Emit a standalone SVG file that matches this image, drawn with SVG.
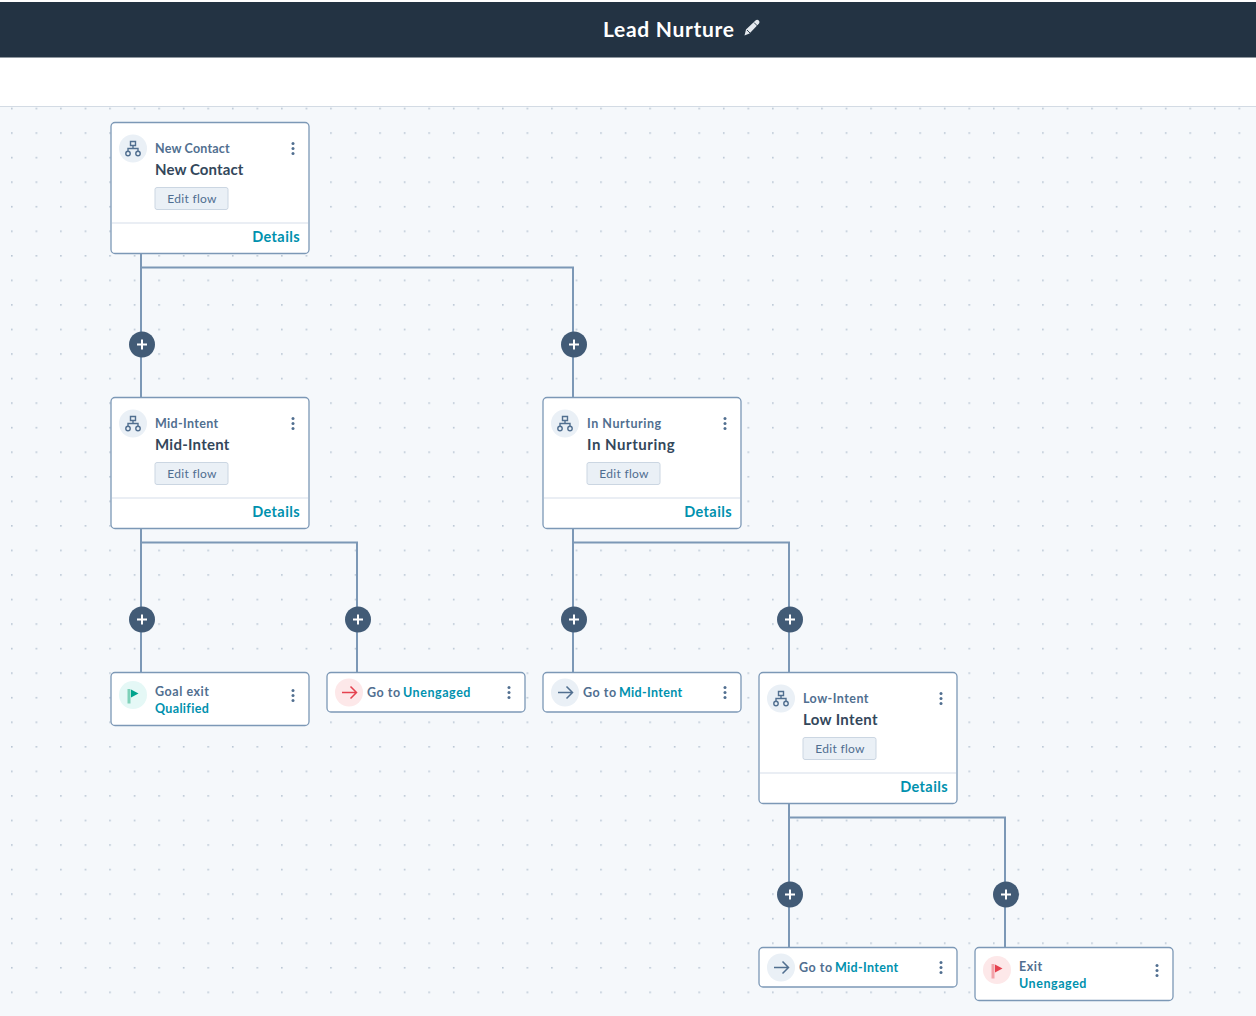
<svg xmlns="http://www.w3.org/2000/svg" xmlns:xlink="http://www.w3.org/1999/xlink" width="1256" height="1016" viewBox="0 0 1256 1016">
<style>
text{font-family:"Lato","Noto Sans",sans-serif}
.card{fill:#fff;stroke:#7c98b6;stroke-width:1.3}
.sep{stroke:#e3e9f0;stroke-width:1.3;fill:none}
.small{font-size:12.5px;font-weight:700;fill:#516f90;letter-spacing:.55px}
.big{font-size:15px;font-weight:700;fill:#33475b;letter-spacing:.55px}
.link{font-size:12.5px;font-weight:700;fill:#0091ae;letter-spacing:.33px}
.det{font-size:14.5px;font-weight:700;fill:#0091ae;letter-spacing:.4px}
.btn{fill:#eaf0f6;stroke:#cbd6e2;stroke-width:1}
.btnt{font-size:12px;fill:#506e91;letter-spacing:.3px;text-anchor:middle}
.conn{fill:none;stroke:#7c98b6;stroke-width:2}
.plusb{fill:#425b76}
.pluss{stroke:#fff;stroke-width:2;fill:none}
.ico{fill:none;stroke:#516f90;stroke-width:1.4}
.dots{fill:#516f90}
</style>
<defs>
<pattern id="grid" x="0" y="0" width="24.55" height="24.55" patternUnits="userSpaceOnUse" patternTransform="translate(11 9.5)">
<rect x="0" y="0" width="1.6" height="1.6" fill="#b9c6d4"/>
</pattern>
<g id="menu"><circle cx="0" cy="-5" r="1.5" class="dots"/><circle cx="0" cy="0" r="1.5" class="dots"/><circle cx="0" cy="5" r="1.5" class="dots"/></g>
<g id="plus"><circle r="13" class="plusb"/><path d="M-5 0H5M0-5V5" class="pluss"/></g>
<g id="tree"><circle r="14" fill="#eaf0f6"/><path d="M-2.500-7h5v4h-5zM0-3v3M-5 3V0H5V3" class="ico"/><circle cx="-5" cy="5" r="2.200" class="ico"/><circle cx="5" cy="5" r="2.200" class="ico"/></g>
<g id="card">
<rect x="0" y="0" width="198" height="131" rx="4" class="card"/>
<path d="M1 100.500H197" class="sep"/>
<rect x="44" y="65" width="73" height="22" rx="2" class="btn"/>
<text x="81" y="80.500" class="btnt">Edit flow</text>
<use xlink:href="#tree" x="22" y="26"/>
<use xlink:href="#menu" x="182" y="26"/>
<text x="189" y="119.500" class="det" text-anchor="end">Details</text>
</g>
</defs>
<rect width="1256" height="1016" fill="#ffffff"/>
<rect x="0" y="107" width="1256" height="909" fill="#f5f8fb"/>
<rect x="0" y="107" width="1256" height="909" fill="url(#grid)"/>
<path d="M0 106.500H1256" stroke="#d3dbe4" stroke-width="1.200" fill="none"/>

<g id="header">
<rect x="0" y="2" width="1256" height="55.500" fill="#233343"/>
<text x="603" y="37" font-size="21" font-weight="700" fill="#fff" letter-spacing=".7">Lead Nurture</text>
<path d="M744.500 35.500l1.500-6 9.500-9c1-1 2.500-.8 3.300 0s1 2.300 0 3.300l-9.300 9.700z" fill="#e4e9ee"/>
<path d="M747 30l3.500 3.500M754 22.500l3.500 3.500" stroke="#233343" stroke-width=".9" fill="none"/>
</g>

<g id="connectors">
<path class="conn" d="M141 254V398M141 267.500H573V398"/>
<path class="conn" d="M141 529V673M141 542.500H357V673"/>
<path class="conn" d="M573 529V673M573 542.500H789V673"/>
<path class="conn" d="M789 804V948M789 817.500H1005V948"/>
<use xlink:href="#plus" x="142" y="344.500"/>
<use xlink:href="#plus" x="574" y="344.500"/>
<use xlink:href="#plus" x="142" y="619.500"/>
<use xlink:href="#plus" x="358" y="619.500"/>
<use xlink:href="#plus" x="574" y="619.500"/>
<use xlink:href="#plus" x="790" y="619.500"/>
<use xlink:href="#plus" x="790" y="894.500"/>
<use xlink:href="#plus" x="1006" y="894.500"/>
</g>

<g id="node-new-contact" transform="translate(111 122.500)">
<use xlink:href="#card"/>
<text x="44" y="30" class="small" style="letter-spacing:.19px">New Contact</text>
<text x="44" y="52" class="big" style="letter-spacing:.1px">New Contact</text>
</g>
<g id="node-mid-intent" transform="translate(111 397.500)">
<use xlink:href="#card"/>
<text x="44" y="30" class="small" style="letter-spacing:.35px">Mid-Intent</text>
<text x="44" y="52" class="big" style="letter-spacing:.25px">Mid-Intent</text>
</g>
<g id="node-in-nurturing" transform="translate(543 397.500)">
<use xlink:href="#card"/>
<text x="44" y="30" class="small">In Nurturing</text>
<text x="44" y="52" class="big">In Nurturing</text>
</g>
<g id="node-low-intent" transform="translate(759 672.500)">
<use xlink:href="#card"/>
<text x="44" y="30" class="small" style="letter-spacing:.45px">Low-Intent</text>
<text x="44" y="52" class="big" style="letter-spacing:.35px">Low Intent</text>
</g>

<g id="node-goal-exit" transform="translate(111 672.500)">
<rect width="198" height="53" rx="4" class="card"/>
<circle cx="22" cy="22.500" r="14" fill="#e5f8f6"/>
<path d="M18 16.500v14.500" stroke="#7fd1b9" stroke-width="3" fill="none"/>
<path d="M20 17l7.500 4-7.500 4z" fill="#00a38d"/>
<text x="44" y="23" class="small">Goal exit</text>
<text x="44" y="40" class="link">Qualified</text>
<use xlink:href="#menu" x="182" y="23"/>
</g>
<g id="node-goto-unengaged" transform="translate(327 672.500)">
<rect width="198" height="39.500" rx="4" class="card"/>
<circle cx="22" cy="20" r="14" fill="#fde8e9"/>
<path d="M15 20H29.500M23.500 14L29.500 20L23.500 26" stroke="#e5424f" stroke-width="1.500" fill="none"/>
<text x="40" y="24" class="small">Go to</text>
<text x="76" y="24" class="link" style="letter-spacing:.55px">Unengaged</text>
<use xlink:href="#menu" x="182" y="20"/>
</g>
<g id="node-goto-mid-1" transform="translate(543 672.500)">
<rect width="198" height="39.500" rx="4" class="card"/>
<circle cx="22" cy="20" r="14" fill="#eaf0f6"/>
<path d="M15 20H29.500M23.500 14L29.500 20L23.500 26" stroke="#516f90" stroke-width="1.500" fill="none"/>
<text x="40" y="24" class="small">Go to</text>
<text x="76" y="24" class="link">Mid-Intent</text>
<use xlink:href="#menu" x="182" y="20"/>
</g>
<g id="node-goto-mid-2" transform="translate(759 947.500)">
<rect width="198" height="39.500" rx="4" class="card"/>
<circle cx="22" cy="20" r="14" fill="#eaf0f6"/>
<path d="M15 20H29.500M23.500 14L29.500 20L23.500 26" stroke="#516f90" stroke-width="1.500" fill="none"/>
<text x="40" y="24" class="small">Go to</text>
<text x="76" y="24" class="link">Mid-Intent</text>
<use xlink:href="#menu" x="182" y="20"/>
</g>
<g id="node-exit" transform="translate(975 947.500)">
<rect width="198" height="53" rx="4" class="card"/>
<circle cx="22" cy="22.500" r="14" fill="#fde8e9"/>
<path d="M18 16.500v14.500" stroke="#f2a3a9" stroke-width="3" fill="none"/>
<path d="M20 17l7.500 4-7.500 4z" fill="#e5424f"/>
<text x="44" y="23" class="small">Exit</text>
<text x="44" y="40" class="link" style="letter-spacing:.55px">Unengaged</text>
<use xlink:href="#menu" x="182" y="23"/>
</g>
</svg>
